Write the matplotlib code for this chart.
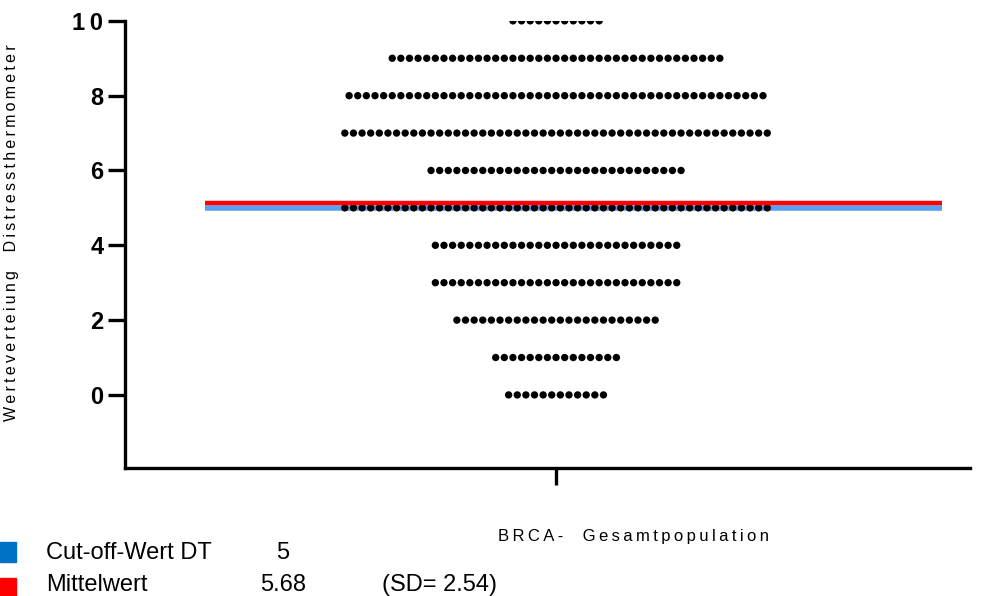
import numpy as np
import matplotlib.pyplot as plt

# Distress-Thermometer Werte (0-10) und Anzahl Patientinnen je Wert
scores = [0, 1, 2, 3, 4, 5, 6, 7, 8, 9, 10]
counts = [12, 15, 24, 29, 29, 50, 30, 50, 49, 39, 11]

cutoff = 5
mean_line = 5.12
mean_label = "5.68"
sd_label = "2.54"
group = "BRCA-  Gesamtpopulation"
ylabel = "Werteverteiung  Distressthermometer"
yticks = [0, 2, 4, 6, 8, 10]


def spaced(s, gap="\u2009"):
    return gap.join(s)


plt.rcParams['font.family'] = ['Liberation Sans', 'DejaVu Sans']

fig = plt.figure(figsize=(9.84, 5.96), dpi=100)
ax = fig.add_axes([0.127, 0.215, 0.859, 0.750])

# horizontale Linien: Cut-off und Mittelwert
ax.hlines(cutoff, -0.83, 0.913, color='#5b9ff0', lw=4.0, zorder=1)
ax.hlines(mean_line, -0.83, 0.913, color='#ff0000', lw=3.2, zorder=3)

# Punkte je Wert nebeneinander
step = 0.0204
for s, n in zip(scores, counts):
    xs = (np.arange(n) - (n - 1) / 2) * step
    ax.scatter(xs, np.full(n, s), s=28, color='black', edgecolors='none', zorder=2)

ax.set_xlim(-1.02, 0.98)
ax.set_ylim(-1.95, 10)
ax.set_xticks([0])
ax.set_xticklabels([''])
ax.set_yticks(yticks)
ax.set_yticklabels([spaced(str(t), '\u2009') if t == 10 else str(t) for t in yticks],
                   fontweight='bold', fontsize=17)

for side in ['top', 'right']:
    ax.spines[side].set_visible(False)
for side in ['left', 'bottom']:
    ax.spines[side].set_linewidth(2.4)
ax.spines['left'].set_bounds(-1.95, 10)
ax.tick_params(axis='both', direction='out', length=12.5, width=2.4, pad=3)

fig.text(0.012, 0.61, spaced(ylabel), rotation=90, fontsize=11.5,
         ha='center', va='center')
fig.text(0.644, 0.100, spaced(group), fontsize=12, ha='center', va='center')

# Legende unten links
fig.patches.append(plt.Rectangle((0.0, 0.057), 0.0165, 0.034, color='#0072c6',
                                 transform=fig.transFigure, figure=fig))
fig.patches.append(plt.Rectangle((0.0, 0.0), 0.0165, 0.031, color='#ff0000',
                                 transform=fig.transFigure, figure=fig))
row1 = 1 - 559 / 596
row2 = 1 - 591 / 596
fig.text(0.047, row1, "Cut-off-Wert DT", fontsize=17, va='baseline')
fig.text(0.281, row1, str(cutoff), fontsize=17, va='baseline')
fig.text(0.047, row2, "Mittelwert", fontsize=17, va='baseline')
fig.text(0.264, row2, mean_label, fontsize=17, va='baseline')
fig.text(0.388, row2, "(SD= " + sd_label + ")", fontsize=17, va='baseline')

fig.savefig('out.png', dpi=100)
